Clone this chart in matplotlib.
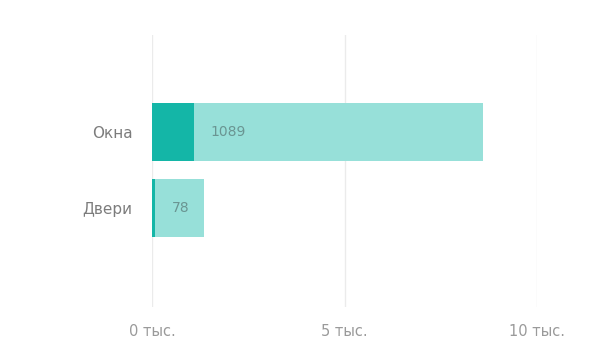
import matplotlib
matplotlib.use("Agg")
import matplotlib.pyplot as plt

categories = ["Двери", "Окна"]
total_values = [1350, 8590]
current_values = [78, 1089]
tick_values = [0, 5000, 10000]
tick_labels = ["0 тыс.", "5 тыс.", "10 тыс."]

plt.rcParams["font.family"] = ["DejaVu Sans"]

fig = plt.figure(figsize=(6.13, 3.38), dpi=100)
ax = fig.add_axes([152 / 613, 31 / 338, 385 / 613, 272 / 338])

pos = list(range(len(categories)))
ax.barh(pos, total_values, height=0.76, color="#97e0d9", zorder=2)
ax.barh(pos, current_values, height=0.76, color="#14b6a7", zorder=3)

for p, v in zip(pos, current_values):
    ax.annotate(str(v), xy=(v, p), xytext=(17, 0), textcoords="offset pixels",
                ha="left", va="center", fontsize=10, color="#6a9592", zorder=4)

ax.set_xlim(0, 10000)
ax.set_ylim(-1.30, 2.28)
ax.set_xticks(tick_values)
ax.set_xticklabels(tick_labels, fontsize=10.5, color="#9a9a9a")
ax.set_yticks(pos)
ax.set_yticklabels(categories, fontsize=11, color="#7c7c7c")
ax.tick_params(axis="x", length=0, pad=12)
ax.tick_params(axis="y", length=0, pad=14)
ax.grid(axis="x", color="#ebebeb", linewidth=1, zorder=0)
ax.grid(axis="y", visible=False)
for s in ax.spines.values():
    s.set_visible(False)

fig.savefig("out.png", dpi=100, facecolor="white")
